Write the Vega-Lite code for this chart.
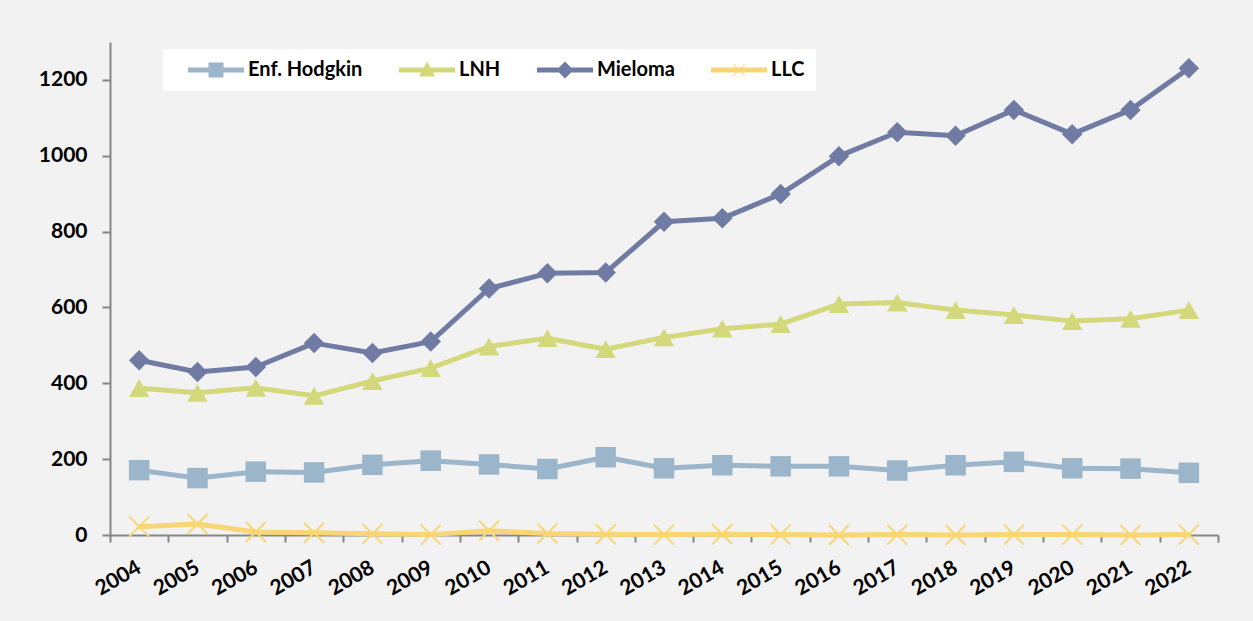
{
  "$schema": "https://vega.github.io/schema/vega-lite/v6.json",
  "width": 1108,
  "height": 493,
  "autosize": {"type": "none"},
  "padding": {"left": 110, "top": 42, "right": 35, "bottom": 86},
  "background": "#f2f2f2",
  "config": {"view": {"stroke": null}, "font": "Lato"},
  "data": {
    "values": [
      {"year": "2004", "series": "Enf. Hodgkin", "value": 171},
      {"year": "2005", "series": "Enf. Hodgkin", "value": 150},
      {"year": "2006", "series": "Enf. Hodgkin", "value": 167},
      {"year": "2007", "series": "Enf. Hodgkin", "value": 165},
      {"year": "2008", "series": "Enf. Hodgkin", "value": 185},
      {"year": "2009", "series": "Enf. Hodgkin", "value": 196},
      {"year": "2010", "series": "Enf. Hodgkin", "value": 186},
      {"year": "2011", "series": "Enf. Hodgkin", "value": 174},
      {"year": "2012", "series": "Enf. Hodgkin", "value": 205},
      {"year": "2013", "series": "Enf. Hodgkin", "value": 176},
      {"year": "2014", "series": "Enf. Hodgkin", "value": 184},
      {"year": "2015", "series": "Enf. Hodgkin", "value": 181},
      {"year": "2016", "series": "Enf. Hodgkin", "value": 181},
      {"year": "2017", "series": "Enf. Hodgkin", "value": 170},
      {"year": "2018", "series": "Enf. Hodgkin", "value": 184},
      {"year": "2019", "series": "Enf. Hodgkin", "value": 193},
      {"year": "2020", "series": "Enf. Hodgkin", "value": 176},
      {"year": "2021", "series": "Enf. Hodgkin", "value": 175},
      {"year": "2022", "series": "Enf. Hodgkin", "value": 164},
      {"year": "2004", "series": "LNH", "value": 387},
      {"year": "2005", "series": "LNH", "value": 375},
      {"year": "2006", "series": "LNH", "value": 388},
      {"year": "2007", "series": "LNH", "value": 367},
      {"year": "2008", "series": "LNH", "value": 406},
      {"year": "2009", "series": "LNH", "value": 440},
      {"year": "2010", "series": "LNH", "value": 497},
      {"year": "2011", "series": "LNH", "value": 519},
      {"year": "2012", "series": "LNH", "value": 490},
      {"year": "2013", "series": "LNH", "value": 521},
      {"year": "2014", "series": "LNH", "value": 544},
      {"year": "2015", "series": "LNH", "value": 556},
      {"year": "2016", "series": "LNH", "value": 609},
      {"year": "2017", "series": "LNH", "value": 613},
      {"year": "2018", "series": "LNH", "value": 593},
      {"year": "2019", "series": "LNH", "value": 580},
      {"year": "2020", "series": "LNH", "value": 564},
      {"year": "2021", "series": "LNH", "value": 570},
      {"year": "2022", "series": "LNH", "value": 593},
      {"year": "2004", "series": "Mieloma", "value": 461},
      {"year": "2005", "series": "Mieloma", "value": 430},
      {"year": "2006", "series": "Mieloma", "value": 443},
      {"year": "2007", "series": "Mieloma", "value": 506},
      {"year": "2008", "series": "Mieloma", "value": 480},
      {"year": "2009", "series": "Mieloma", "value": 510},
      {"year": "2010", "series": "Mieloma", "value": 650},
      {"year": "2011", "series": "Mieloma", "value": 690},
      {"year": "2012", "series": "Mieloma", "value": 692},
      {"year": "2013", "series": "Mieloma", "value": 826},
      {"year": "2014", "series": "Mieloma", "value": 835},
      {"year": "2015", "series": "Mieloma", "value": 899},
      {"year": "2016", "series": "Mieloma", "value": 999},
      {"year": "2017", "series": "Mieloma", "value": 1062},
      {"year": "2018", "series": "Mieloma", "value": 1053},
      {"year": "2019", "series": "Mieloma", "value": 1121},
      {"year": "2020", "series": "Mieloma", "value": 1057},
      {"year": "2021", "series": "Mieloma", "value": 1121},
      {"year": "2022", "series": "Mieloma", "value": 1231},
      {"year": "2004", "series": "LLC", "value": 22},
      {"year": "2005", "series": "LLC", "value": 29},
      {"year": "2006", "series": "LLC", "value": 8},
      {"year": "2007", "series": "LLC", "value": 6},
      {"year": "2008", "series": "LLC", "value": 3},
      {"year": "2009", "series": "LLC", "value": 1},
      {"year": "2010", "series": "LLC", "value": 11},
      {"year": "2011", "series": "LLC", "value": 4},
      {"year": "2012", "series": "LLC", "value": 2},
      {"year": "2013", "series": "LLC", "value": 1},
      {"year": "2014", "series": "LLC", "value": 2},
      {"year": "2015", "series": "LLC", "value": 1},
      {"year": "2016", "series": "LLC", "value": 0},
      {"year": "2017", "series": "LLC", "value": 1},
      {"year": "2018", "series": "LLC", "value": 0},
      {"year": "2019", "series": "LLC", "value": 1},
      {"year": "2020", "series": "LLC", "value": 1},
      {"year": "2021", "series": "LLC", "value": 0},
      {"year": "2022", "series": "LLC", "value": 1}
    ]
  },
  "encoding": {
    "x": {
      "field": "year",
      "type": "ordinal",
      "bandPosition": 0.5,
      "scale": {"type": "band", "paddingInner": 0, "paddingOuter": 0},
      "axis": {
        "title": null,
        "labelAngle": -30,
        "labelAlign": "right",
        "labelBaseline": "middle",
        "labelPadding": 24,
        "tickBand": "extent",
        "domainColor": "#868686",
        "domainWidth": 2,
        "tickColor": "#868686",
        "tickWidth": 2,
        "tickSize": 7,
        "labelFont": "Lato",
        "labelFontWeight": "bold",
        "labelFontSize": 21,
        "labelColor": "#000000"
      }
    },
    "y": {
      "field": "value",
      "type": "quantitative",
      "scale": {"domain": [0, 1300], "nice": false},
      "axis": {
        "title": null,
        "values": [0, 200, 400, 600, 800, 1000, 1200],
        "format": "d",
        "grid": false,
        "domainColor": "#868686",
        "domainWidth": 2,
        "tickColor": "#868686",
        "tickWidth": 2,
        "tickSize": 8,
        "labelPadding": 15,
        "labelFont": "Lato",
        "labelFontWeight": "bold",
        "labelFontSize": 21,
        "labelColor": "#000000"
      }
    },
    "color": {
      "field": "series",
      "type": "nominal",
      "scale": {
        "domain": ["Enf. Hodgkin", "LNH", "Mieloma", "LLC"],
        "range": ["#9bb5cb", "#d3d97a", "#6f7ba3", "#f9d673"]
      },
      "legend": {
        "orient": "none",
        "legendX": 53,
        "legendY": 7,
        "direction": "horizontal",
        "title": null,
        "fillColor": "#ffffff",
        "padding": 11,
        "labelFont": "Lato",
        "labelFontWeight": "bold",
        "labelFontSize": 20,
        "labelColor": "#000000",
        "symbolSize": 400,
        "symbolOffset": 32,
        "labelOffset": 22,
        "columnPadding": 22,
        "encode": {
          "symbols": {
            "update": {
              "shape": {"signal": "datum.value === 'Enf. Hodgkin' ? 'M-2.8,-0.25H2.8V0.25H-2.8Z M-0.75,-0.75H0.75V0.75H-0.75Z' : datum.value === 'LNH' ? 'M-2.8,-0.25H2.8V0.25H-2.8Z M0,-0.85L0.8,0.65H-0.8Z' : datum.value === 'Mieloma' ? 'M-2.8,-0.25H2.8V0.25H-2.8Z M0,-0.85L0.85,0L0,0.85L-0.85,0Z' : 'M-2.8,-0.25H2.8V0.25H-2.8Z M-0.565,-0.635L0.635,0.565L0.565,0.635L-0.635,-0.565Z M-0.565,0.635L-0.635,0.565L0.565,-0.635L0.635,-0.565Z'"},
              "fill": {"scale": "color", "field": "value"},
              "strokeWidth": {"value": 0},
              "opacity": {"value": 1}
            }
          }
        }
      }
    }
  },
  "layer": [
    {
      "mark": {"type": "line", "strokeWidth": 5, "strokeJoin": "round", "strokeCap": "round"}
    },
    {
      "transform": [{"filter": "datum.series !== 'LLC'"}],
      "mark": {"type": "point", "filled": true, "opacity": 1},
      "encoding": {
        "shape": {
          "field": "series",
          "type": "nominal",
          "scale": {"domain": ["Enf. Hodgkin", "LNH", "Mieloma"], "range": ["square", "triangle-up", "diamond"]},
          "legend": null
        },
        "size": {
          "field": "series",
          "type": "nominal",
          "scale": {"domain": ["Enf. Hodgkin", "LNH", "Mieloma"], "range": [420, 420, 340]},
          "legend": null
        }
      }
    },
    {
      "transform": [{"filter": "datum.series === 'LLC'"}],
      "mark": {"type": "point", "filled": false, "opacity": 1, "strokeWidth": 2, "size": 400, "shape": "M-1,-1L1,1M-1,1L1,-1"}
    }
  ]
}
